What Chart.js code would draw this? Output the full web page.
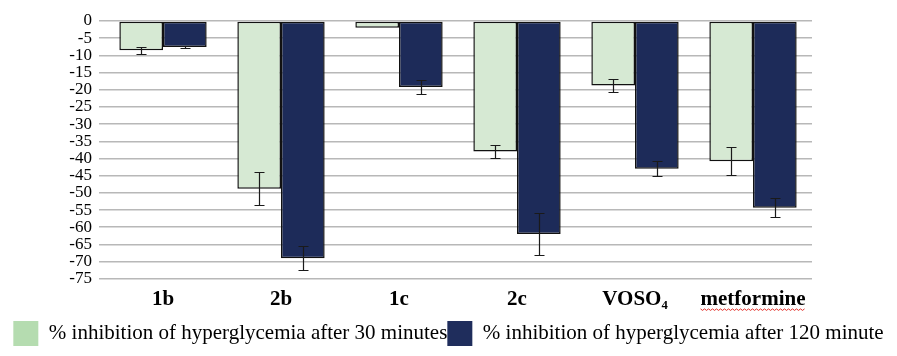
<!DOCTYPE html>
<html>
<head>
<meta charset="utf-8">
<script src="https://cdn.jsdelivr.net/npm/chart.js@4"></script>
<style>
  html, body { margin: 0; padding: 0; background: #fff; }
  #wrap { width: 897px; height: 356px; }
</style>
</head>
<body>
<div id="wrap"><canvas id="InhibChart"></canvas></div>
<script>
// compounds on the x axis
var compounds = ['1b', '2b', '1c', '2c', 'VOSO\u2084', 'metformine'];
// % inhibition of hyperglycemia
var inhib30 = [-8.5, -48.8, -2, -38, -18.8, -40.8];
var inhib120 = [-7.6, -69, -19.2, -62, -43, -54.3];
// error bar half heights
var err30 = [1, 4.8, 0, 1.9, 1.9, 4.1];
var err120 = [0.4, 3.4, 1.9, 6.2, 2.2, 2.8];
var seriesNames = [
    '% inhibition of hyperglycemia after 30 minutes',
    '% inhibition of hyperglycemia after 120 minute'
];
var yTicks = [0, -5, -10, -15, -20, -25, -30, -35, -40, -45, -50, -55, -60, -65, -70, -75];

var serif = "'Liberation Serif', 'Times New Roman', serif";
var errList = [err30, err120];
var legendColors = ['#b5dcb0', '#1f2d5c'];
var xFontSize = 21;
var xPad = 8.5;

// draws the error bars on top of each bar
var errorBars = {
    id: 'errorBars',
    afterDatasetsDraw: function (chart) {
        var ctx = chart.ctx;
        var y = chart.scales.y;
        ctx.save();
        ctx.strokeStyle = '#1a1a1a';
        ctx.lineWidth = 1.2;
        chart.data.datasets.forEach(function (ds, di) {
            var meta = chart.getDatasetMeta(di);
            meta.data.forEach(function (bar, i) {
                var e = errList[di][i];
                if (!e) return;
                var v = ds.data[i];
                var top = Math.round(y.getPixelForValue(v + e)) + 0.5;
                var bot = Math.round(y.getPixelForValue(v - e)) + 0.5;
                var x = Math.round(bar.x) + 0.5;
                ctx.beginPath();
                ctx.moveTo(x, top); ctx.lineTo(x, bot);
                ctx.moveTo(x - 5, top); ctx.lineTo(x + 5, top);
                ctx.moveTo(x - 5, bot); ctx.lineTo(x + 5, bot);
                ctx.stroke();
            });
        });
        ctx.restore();
    }
};

// red spell-check squiggle under "metformine"
var squiggle = {
    id: 'squiggle',
    afterDraw: function (chart) {
        var xs = chart.scales.x;
        var ctx = chart.ctx;
        var i = compounds.indexOf('metformine');
        var cx = xs.getPixelForTick(i);
        ctx.save();
        ctx.font = 'bold ' + xFontSize + 'px ' + serif;
        var w = ctx.measureText('metformine').width;
        var yy = xs.top + xPad + xFontSize * 1.2 / 2 + 9;
        ctx.strokeStyle = '#e0302a';
        ctx.lineWidth = 1;
        ctx.beginPath();
        for (var px = cx - w / 2, k = 0; px <= cx + w / 2; px += 2, k++) {
            var py = yy + (k % 2 ? 1.5 : 0);
            if (k === 0) ctx.moveTo(px, py); else ctx.lineTo(px, py);
        }
        ctx.stroke();
        ctx.restore();
    }
};

var InhibChart = new Chart(document.getElementById('InhibChart'), {
    type: 'bar',
    data: {
        labels: compounds,
        datasets: [{
            label: seriesNames[0],
            data: inhib30,
            backgroundColor: '#d6e9d3',
            borderColor: '#111',
            borderWidth: 1.5,
            borderSkipped: false
        }, {
            label: seriesNames[1],
            data: inhib120,
            backgroundColor: '#1d2b59',
            borderColor: '#111',
            borderWidth: 1.5,
            borderSkipped: false
        }]
    },
    options: {
        responsive: true,
        maintainAspectRatio: false,
        animation: false,
        devicePixelRatio: 1,
        layout: { padding: { left: 0, right: 0, top: 21, bottom: 0 } },
        datasets: { bar: { categoryPercentage: 0.74, barPercentage: 1 } },
        scales: {
            x: {
                grid: { display: false, drawTicks: false, tickLength: 0 },
                border: { display: false },
                ticks: {
                    padding: xPad,
                    color: '#000',
                    font: { family: serif, size: xFontSize, weight: 'bold' }
                }
            },
            y: {
                min: -75,
                max: 0,
                afterBuildTicks: function (axis) {
                    axis.ticks = yTicks.map(function (v) { return { value: v }; });
                },
                afterFit: function (axis) { axis.width = 104; },
                border: { display: false },
                grid: { color: '#b8b8b8', lineWidth: 1.5, tickLength: 5, drawTicks: true },
                ticks: {
                    autoSkip: false,
                    padding: 7,
                    color: '#000',
                    font: { family: serif, size: 17 }
                }
            },
            // empty right axis that only keeps the margin on the right
            yRight: {
                position: 'right',
                grid: { display: false },
                border: { display: false },
                ticks: { display: false },
                afterFit: function (axis) { axis.width = 85; }
            }
        },
        plugins: {
            tooltip: { enabled: false },
            legend: {
                position: 'bottom',
                labels: {
                    boxWidth: 25,
                    boxHeight: 25,
                    padding: 0,
                    color: '#000',
                    font: { family: serif, size: 21 },
                    generateLabels: function (chart) {
                        return chart.data.datasets.map(function (ds, i) {
                            return {
                                text: ds.label,
                                fillStyle: legendColors[i],
                                strokeStyle: legendColors[i],
                                lineWidth: 0,
                                datasetIndex: i
                            };
                        });
                    }
                }
            }
        }
    },
    plugins: [errorBars, squiggle]
});
</script>
</body>
</html>
